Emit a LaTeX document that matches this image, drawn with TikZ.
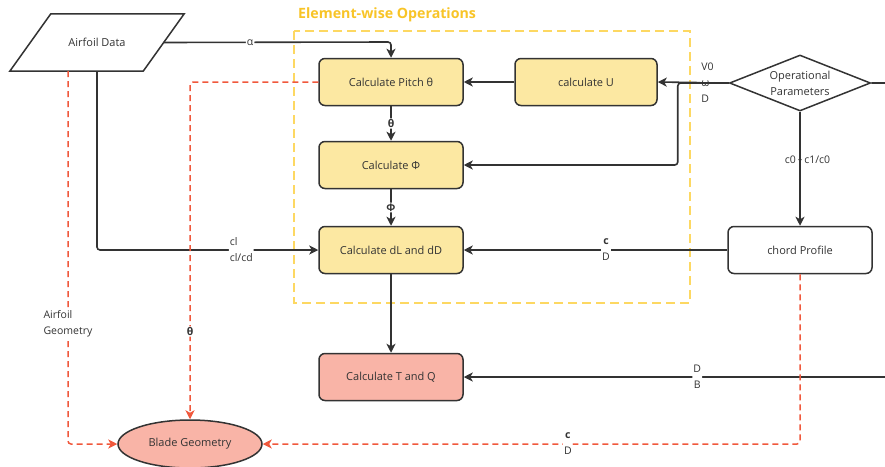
\documentclass[tikz,border=0pt]{standalone}
\usepackage{fontspec}
\setmainfont{Open Sans}
\usetikzlibrary{arrows.meta,shapes.geometric}

\definecolor{ink}{HTML}{333333}
\definecolor{procfill}{HTML}{FCE8A2}
\definecolor{outfill}{HTML}{F9B4A7}
\definecolor{geomred}{HTML}{F0583C}
\definecolor{framey}{HTML}{FDD862}
\definecolor{titley}{HTML}{F8C427}

\tikzset{
  proc/.style={rectangle, rounded corners=6pt, draw=ink, line width=1.5pt,
    fill=procfill, minimum width=144pt, minimum height=47pt, text=ink,
    font=\fontsize{11}{13}\selectfont},
  outproc/.style={proc, fill=outfill},
  plainbox/.style={proc, fill=white},
  conn/.style={draw=ink, line width=1.6pt, rounded corners=3pt},
  arr/.style={conn, -{Stealth[length=9pt,width=9pt,inset=2.5pt]}},
  geom/.style={draw=geomred, line width=1.5pt, dash pattern=on 6pt off 4pt,
    rounded corners=3pt, -{Stealth[length=9pt,width=9pt,inset=2.5pt]}},
  lbl/.style={font=\fontsize{10.5}{16}\selectfont, text=ink, fill=white,
    inner sep=1pt, align=center},
  blbl/.style={lbl, font=\fontsize{10.5}{16}\selectfont\bfseries},
}

\begin{document}
\begin{tikzpicture}[x=1pt, y=-1pt]
\useasboundingbox (0,0) rectangle (885,466);

% element-wise frame and its title
\draw[framey, line width=1.6pt, dash pattern=on 9pt off 5pt] (294,31) rectangle (690,303);
\node[anchor=west, text=titley, font=\fontsize{14.2}{16}\selectfont\bfseries, inner sep=0]
  (title) at (298,15) {Element-wise Operations};

% airfoil data (parallelogram drawn around an invisible box)
\node[minimum width=133pt, minimum height=57pt, inner sep=0, text=ink,
  font=\fontsize{11}{13}\selectfont] (air) at (97,42.5) {Airfoil Data};
\draw[ink, line width=1.5pt]
  ([xshift=20.5pt]air.north west) -- ([xshift=20.5pt]air.north east) --
  ([xshift=-20.5pt]air.south east) -- ([xshift=-20.5pt]air.south west) -- cycle;

% process boxes
\node[proc] (pitch) at (391,82) {Calculate Pitch θ};
\node[proc, minimum width=142pt] (u) at (586,82) {calculate U};
\node[proc] (phi) at (391,165) {Calculate Φ};
\node[proc] (dl) at (391,250) {Calculate dL and dD};
\node[outproc] (tq) at (391,377) {Calculate T and Q};
\node[plainbox] (chord) at (800,250) {chord Profile};

% operational parameters
\node[diamond, draw=ink, line width=1.5pt, minimum width=141pt, minimum height=56pt,
  inner sep=0, aspect=2.5, align=center, text=ink,
  font=\fontsize{11}{16}\selectfont] (op) at (800,83) {Operational\\Parameters};

% blade geometry
\node[ellipse, draw=ink, line width=1.5pt, fill=outfill, minimum width=144pt,
  minimum height=48pt, inner sep=0, text=ink, font=\fontsize{11}{13}\selectfont]
  (blade) at (190,444) {Blade Geometry};

% solid connectors
\draw[arr] (air.east) -- (391,42) node[lbl, pos=0.38] {α} -- (pitch.north);
\draw[arr] (air.south) |- (dl.west) node[lbl, pos=0.826, align=left] {cl\\cl/cd};
\draw[arr] (u.west) -- (pitch.east);
\draw[arr] (pitch.south) -- (phi.north) node[blbl, midway] {θ};
\draw[arr] (phi.south) -- (dl.north) node[blbl, midway] {Φ};
\draw[arr] (dl.south) -- (tq.north);
\draw[arr] (op.west) -- (u.east) node[lbl, pos=0.3, align=left] {V0\\ω\\D};
\draw[arr] (op.west) -- ++(-51,0) |- (phi.east);
\draw[arr] (op.south) -- (chord.north)
  node[lbl, fill=none, pos=0.42, xshift=7.5pt] (cratio) {c0 \hspace{3pt} c1/c0};
\fill[ink] (cratio.center -| op.south) circle (1.7pt);
\draw[arr] (chord.west) -- (dl.east)
  node[lbl, pos=0.46] {\textbf{c}\\D};
\draw[arr] (op.east) -- (893,83) |- (tq.east)
  node[lbl, pos=0.728] {D\\B};

% geometry (dashed) connectors
\draw[geom] ([xshift=-29pt]air.south) |- (blade.west)
  node[lbl, pos=0.339, align=left] {Airfoil\\Geometry};
\draw[geom] (pitch.west) -| (blade.north)
  node[blbl, pos=0.87] {θ};
\draw[geom] (chord.south) |- (blade.east)
  node[lbl, pos=0.716] {\textbf{c}\\D};
\end{tikzpicture}
\end{document}
